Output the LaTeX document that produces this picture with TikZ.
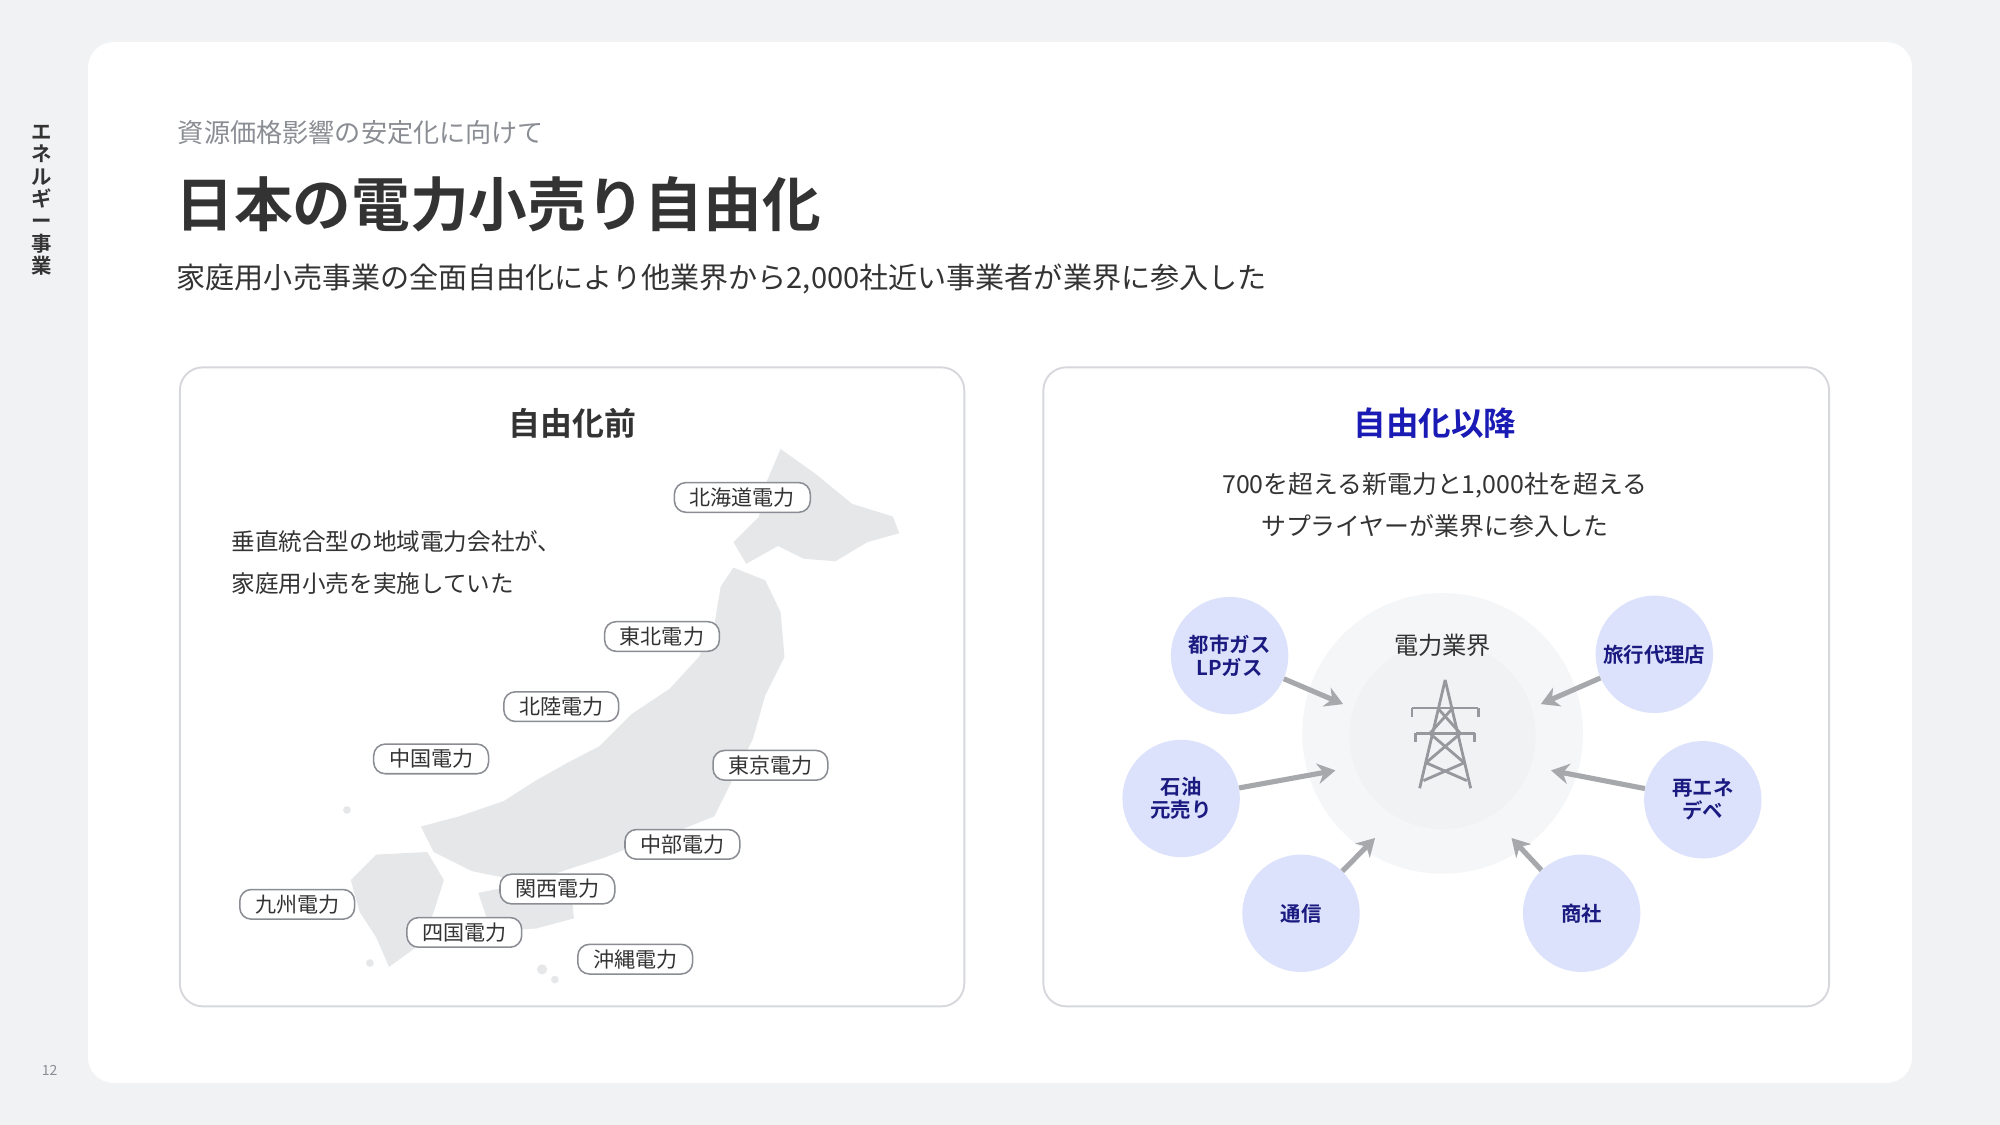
\documentclass[tikz,border=0pt]{standalone}
\usepackage{fontspec}
\setmainfont{Noto Sans CJK JP}
\newfontfamily\jpb{Noto Sans CJK JP Bold}
\usetikzlibrary{arrows.meta}
\definecolor{bg}{HTML}{F1F2F4}
\definecolor{ink}{HTML}{333333}
\definecolor{greyt}{HTML}{8A8D93}
\definecolor{bord}{HTML}{D6D8DC}
\definecolor{mapc}{HTML}{E6E7E9}
\definecolor{blueh}{HTML}{1A1AB4}
\definecolor{lav}{HTML}{DCE2FB}
\definecolor{navy}{HTML}{1A1A80}
\definecolor{arr}{HTML}{A6A8AC}
\tikzset{
 pill/.style={draw=greyt,fill=white,rounded corners=9pt,line width=1.2pt,inner xsep=12pt,inner ysep=4pt,font=\fontsize{16.5}{16.5}\selectfont,text=ink},
 bubble/.style={circle,fill=lav,minimum size=92pt,inner sep=0pt,align=center,font=\jpb\fontsize{16}{18}\selectfont,text=navy},
 panel/.style={draw=bord,fill=white,line width=1.5pt,rounded corners=18pt},
 harr/.style={draw=arr,line width=4pt,-{Stealth[length=14pt,width=16pt]}}
}
\begin{document}
\begin{tikzpicture}[x=1pt,y=-1pt]
\fill[bg] (0,0) rectangle (1568,882);
\useasboundingbox (0,0) rectangle (1568,882);
\fill[white,rounded corners=20pt] (69,33) rectangle (1499,849);
\node[align=center,font=\jpb\fontsize{16}{17.5}\selectfont,text=ink] (side) at (33,157) {エ\\ネ\\ル\\ギ\\ー\\事\\業};
\node[font=\fontsize{11}{11}\selectfont,text=greyt] (pg) at (39,839) {12};
\node[anchor=west,font=\fontsize{20.5}{20.5}\selectfont,text=greyt] (sub) at (136,104) {資源価格影響の安定化に向けて};
\node[anchor=west,font=\jpb\fontsize{46}{46}\selectfont,text=ink] (title) at (134,160) {日本の電力小売り自由化};
\node[anchor=west,font=\fontsize{22.8}{22.8}\selectfont,text=ink] (desc) at (135,219) {家庭用小売事業の全面自由化により他業界から2,000社近い事業者が業界に参入した};
% left panel
\draw[panel] (141,288) rectangle (756,789);
\node[font=\jpb\fontsize{25}{25}\selectfont,text=ink] (lt) at (449,332) {自由化前};
\node[anchor=west,align=left,font=\fontsize{18.5}{33}\selectfont,text=ink] (ltx) at (178,441) {垂直統合型の地域電力会社が、\\家庭用小売を実施していた};
% map
\fill[mapc] (612,352) -- (640,372) -- (668,395) -- (700,405) -- (705,418) -- (680,425) -- (655,440) -- (630,438) -- (610,428) -- (585,442) -- (575,425) -- (595,405) -- (600,380) -- cycle;
\fill[mapc] (575,445) -- (600,455) -- (612,480) -- (615,515) -- (600,545) -- (590,580) -- (575,610) -- (560,640) -- (535,650) -- (505,660) -- (475,672) -- (450,680) -- (420,690) -- (395,688) -- (370,683) -- (340,668) -- (330,648) -- (360,640) -- (395,628) -- (420,612) -- (445,598) -- (470,585) -- (495,560) -- (525,540) -- (548,515) -- (560,490) -- (565,460) -- cycle;
\fill[mapc] (335,668) -- (348,690) -- (340,715) -- (330,740) -- (305,758) -- (295,735) -- (282,715) -- (275,690) -- (295,670) -- cycle;
\fill[mapc] (375,700) -- (410,693) -- (448,700) -- (450,720) -- (420,728) -- (385,730) -- cycle;
\fill[mapc] (425,760) circle (4pt) (435,768) circle (3pt) (290,755) circle (3pt) (272,635) circle (3pt);
\node[pill] (hk) at (582,390) {北海道電力};
\node[pill] (th) at (519,499) {東北電力};
\node[pill] (hr) at (440,554) {北陸電力};
\node[pill] (cg) at (338,595) {中国電力};
\node[pill] (tk) at (604,600) {東京電力};
\node[pill] (cb) at (535,662) {中部電力};
\node[pill] (ks) at (437,697) {関西電力};
\node[pill] (ky) at (233,709) {九州電力};
\node[pill] (sk) at (364,731) {四国電力};
\node[pill] (ok) at (498,752) {沖縄電力};
% right panel
\draw[panel] (818,288) rectangle (1434,789);
\node[font=\jpb\fontsize{25.5}{25.5}\selectfont,text=blueh] (rt) at (1125,332) {自由化以降};
\node[align=center,font=\fontsize{19.5}{33}\selectfont,text=ink] (rtx) at (1125,396) {700を超える新電力と1,000社を超える\\サプライヤーが業界に参入した};
\fill[bg!70!white] (1131,575) circle (110pt);
\node[circle,fill=bg,minimum size=146pt,inner sep=0pt] (core) at (1131,577) {};
\node[font=\fontsize{19}{19}\selectfont,text=ink] (ind) at (1131,506) {電力業界};
\begin{scope}[draw=greyt!90,line width=2.2pt,line join=round]
\draw (1133,533) -- (1113,618) (1133,533) -- (1153,618);
\draw (1107,555) -- (1159,555) (1110,575) -- (1156,575);
\draw (1107,555) -- (1107,562) (1159,555) -- (1159,562) (1110,575) -- (1110,582) (1156,575) -- (1156,582);
\draw (1127,555) -- (1145,575) -- (1118,598) -- (1150,612);
\draw (1139,555) -- (1121,575) -- (1148,598) -- (1116,612);
\end{scope}
\node[bubble] (gas) at (964,514) {都市ガス\\LPガス};
\node[bubble] (trv) at (1297,513) {旅行代理店};
\node[bubble] (oil) at (926,626) {石油\\元売り};
\node[bubble] (ren) at (1335,627) {再エネ\\デベ};
\node[bubble] (tel) at (1020,716) {通信};
\node[bubble] (trd) at (1240,716) {商社};
\coordinate (a1) at (1053,552); \coordinate (a2) at (1208,552);
\coordinate (a3) at (1047,604); \coordinate (a4) at (1216,604);
\coordinate (a5) at (1078,657); \coordinate (a6) at (1185,657);
\draw[harr] (gas) -- (a1);
\draw[harr] (trv) -- (a2);
\draw[harr] (oil) -- (a3);
\draw[harr] (ren) -- (a4);
\draw[harr] (tel) -- (a5);
\draw[harr] (trd) -- (a6);
\end{tikzpicture}
\end{document}
